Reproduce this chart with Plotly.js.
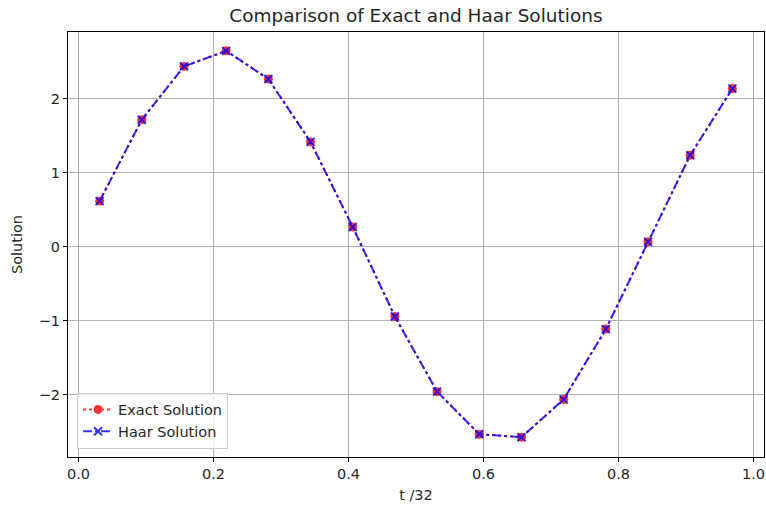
<!DOCTYPE html>
<html>
<head>
<meta charset="utf-8">
<script src="https://cdn.plot.ly/plotly-3.0.1.min.js"></script>
<style>html,body{margin:0;padding:0;background:#fff;}#chart{width:766px;height:508px;}</style>
</head>
<body>
<div id="chart"></div>
<script>
const tValues = [0.03125, 0.09375, 0.15625, 0.21875, 0.28125, 0.34375, 0.40625, 0.46875,
                 0.53125, 0.59375, 0.65625, 0.71875, 0.78125, 0.84375, 0.90625, 0.96875];
const exactSolution = [0.62, 1.72, 2.44, 2.65, 2.27, 1.42, 0.27, -0.94,
                       -1.955, -2.53, -2.57, -2.06, -1.11, 0.07, 1.24, 2.14];
const haarSolution = [0.62, 1.72, 2.44, 2.65, 2.27, 1.42, 0.27, -0.94,
                      -1.955, -2.53, -2.57, -2.06, -1.11, 0.07, 1.24, 2.14];
const xTicks = [0.0, 0.2, 0.4, 0.6, 0.8, 1.0];
const xTickLabels = ['0.0', '0.2', '0.4', '0.6', '0.8', '1.0'];
const yTicks = [-2, -1, 0, 1, 2];
const yTickLabels = ['\u22122', '\u22121', '0', '1', '2'];

const font = 'DejaVu Sans, sans-serif';
const traces = [
  {
    x: tValues, y: exactSolution, name: 'Exact Solution', type: 'scatter', mode: 'lines+markers',
    line: {color: 'red', dash: 'dot', width: 2}, opacity: 0.8,
    marker: {symbol: 'circle', size: 9, color: 'red'}
  },
  {
    x: tValues, y: haarSolution, name: 'Haar Solution', type: 'scatter', mode: 'lines+markers',
    line: {color: 'blue', dash: 'dashdot', width: 2}, opacity: 0.8,
    marker: {symbol: 'x-thin', size: 8, color: 'blue', line: {color: 'blue', width: 2}}
  }
];
const layout = {
  width: 766, height: 508,
  margin: {l: 68, r: 2, t: 32, b: 51},
  paper_bgcolor: '#fff', plot_bgcolor: '#fff',
  font: {family: font, size: 14.5, color: '#262626'},
  title: {text: 'Comparison of Exact and Haar Solutions', font: {family: font, size: 18.5, color: '#262626'},
          x: 0.543, xanchor: 'center', y: 0.969, yanchor: 'middle'},
  xaxis: {
    range: [-0.0156, 1.0156], tickvals: xTicks, ticktext: xTickLabels,
    showgrid: true, gridcolor: '#b0b0b0', gridwidth: 1, zeroline: false,
    showline: true, linecolor: '#000', linewidth: 1, mirror: true,
    ticks: 'outside', ticklen: 4, tickcolor: '#000',
    title: {text: 't /32', font: {family: font, size: 14.5}, standoff: 8}
  },
  yaxis: {
    range: [-2.838, 2.905], tickvals: yTicks, ticktext: yTickLabels,
    showgrid: true, gridcolor: '#b0b0b0', gridwidth: 1, zeroline: false,
    showline: true, linecolor: '#000', linewidth: 1, mirror: true,
    ticks: 'outside', ticklen: 4, tickcolor: '#000',
    title: {text: 'Solution', font: {family: font, size: 14.5}, standoff: 12}
  },
  legend: {
    x: 0.013, y: 0.02, xanchor: 'left', yanchor: 'bottom',
    bgcolor: 'rgba(255,255,255,0.8)', bordercolor: '#cccccc', borderwidth: 1,
    font: {family: font, size: 14.5, color: '#262626'}
  },
  showlegend: true
};
Plotly.newPlot('chart', traces, layout, {displayModeBar: false, staticPlot: true});
</script>
</body>
</html>
